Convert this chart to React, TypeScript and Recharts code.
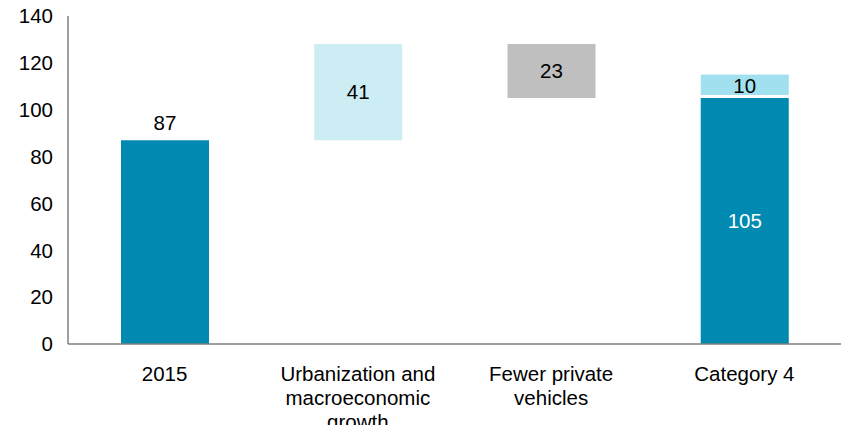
import { Bar, BarChart, Cell, LabelList, XAxis, YAxis } from "recharts";

const categories = [
  "2015",
  "Urbanization and\nmacroeconomic\ngrowth",
  "Fewer private\nvehicles",
  "Category 4",
];
// invisible floor that lifts the step bars
const offsets = [0, 87, 105, 0];
const steps = [87, 41, 23, 105];
const topUps = [0, 0, 0, 10];
const yTicks = [0, 20, 40, 60, 80, 100, 120, 140];

const STEP_COLORS = ["#0089b1", "#ccedf4", "#bfbfbf", "#0089b1"];
const TOP_COLOR = "#a1e0ee";
const FONT = "'Liberation Sans', Arial, sans-serif";
const FS = 20.5;

const data = categories.map((name, i) => ({
  name,
  offset: offsets[i],
  step: steps[i],
  topUp: topUps[i],
}));

function CategoryTick({ x, y, payload }: any) {
  const lines = String(payload.value).split("\n");
  return (
    <text x={x} y={y + 29} textAnchor="middle" fill="#000" fontSize={FS} fontFamily={FONT}>
      {lines.map((line, i) => (
        <tspan key={i} x={x} dy={i === 0 ? 0 : 24}>
          {line}
        </tspan>
      ))}
    </text>
  );
}

function StepLabel({ x, y, width, height, value, index }: any) {
  if (!value) return null;
  const cx = x + width / 2;
  if (index === 0) {
    return (
      <text x={cx} y={y - 10} textAnchor="middle" fill="#000" fontSize={FS} fontFamily={FONT}>
        {value}
      </text>
    );
  }
  return (
    <text
      x={cx}
      y={y + height / 2 + 7}
      textAnchor="middle"
      fill={index === 3 ? "#fff" : "#000"}
      fontSize={FS}
      fontFamily={FONT}
    >
      {value}
    </text>
  );
}

function TopLabel({ x, y, width, height, value }: any) {
  if (!value) return null;
  return (
    <text x={x + width / 2} y={y + height / 2 + 6.5} textAnchor="middle" fill="#000" fontSize={FS} fontFamily={FONT}>
      {value}
    </text>
  );
}

// leave a thin white seam under the stacked top segment
function TopShape({ x, y, width, height, fill }: any) {
  if (!height) return null;
  return <rect x={x} y={y} width={width} height={Math.max(height - 3, 0)} fill={fill} />;
}

export default function App() {
  return (
    <div style={{ width: 845, height: 425 }}>
      <style>{"body{margin:0}"}</style>
      <BarChart
        width={845}
        height={425}
        data={data}
        margin={{ top: 16, right: 4, bottom: 11, left: 0 }}
        barSize={88}
      >
        <XAxis
          dataKey="name"
          tickLine={false}
          axisLine={{ stroke: "#7f7f7f", strokeWidth: 1.5 }}
          tick={<CategoryTick />}
          height={70}
          interval={0}
        />
        <YAxis
          domain={[0, 140]}
          ticks={yTicks}
          tickLine={false}
          axisLine={{ stroke: "#7f7f7f", strokeWidth: 1.5 }}
          width={68}
          tickMargin={9}
          tick={{ fill: "#000", fontSize: FS, fontFamily: FONT }}
        />
        <Bar dataKey="offset" stackId="w" fill="transparent" isAnimationActive={false} />
        <Bar dataKey="step" stackId="w" isAnimationActive={false}>
          {data.map((d, i) => (
            <Cell key={d.name} fill={STEP_COLORS[i]} />
          ))}
          <LabelList dataKey="step" content={<StepLabel />} />
        </Bar>
        <Bar dataKey="topUp" stackId="w" fill={TOP_COLOR} shape={<TopShape />} isAnimationActive={false}>
          <LabelList dataKey="topUp" content={<TopLabel />} />
        </Bar>
      </BarChart>
    </div>
  );
}
